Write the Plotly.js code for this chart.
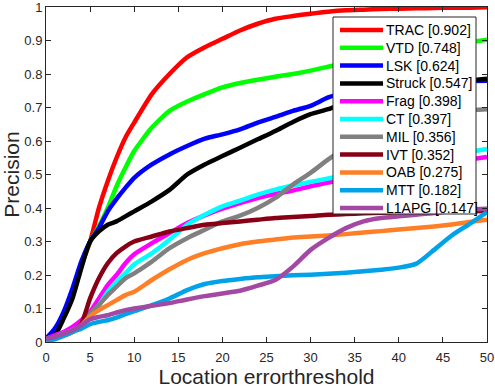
<!DOCTYPE html>
<html>
<head>
<meta charset="utf-8">
<script src="https://cdn.plot.ly/plotly-3.0.1.min.js"></script>
<style>
  body { margin: 0; background: #fff; }
  #myDiv { width: 495px; height: 389px; }
</style>
</head>
<body>
<div id="myDiv"></div>
<script>
// location error thresholds (pixels)
var thresholds = [0, 1, 2, 3, 4, 5, 6, 7, 8, 9, 10, 12, 14, 16, 18, 20, 22, 24, 26, 28, 30, 32, 34, 36, 38, 40, 42, 44, 46, 48, 50];

var trac   = [0.01, 0.03, 0.08, 0.15, 0.23, 0.30, 0.40, 0.48, 0.55, 0.61, 0.655, 0.74, 0.80, 0.85, 0.88, 0.905, 0.93, 0.95, 0.965, 0.973, 0.98, 0.986, 0.99, 0.992, 0.994, 0.995, 0.996, 0.997, 0.998, 0.998, 0.999];
var vtd    = [0.01, 0.03, 0.08, 0.15, 0.23, 0.30, 0.345, 0.40, 0.465, 0.52, 0.57, 0.64, 0.69, 0.718, 0.74, 0.76, 0.773, 0.783, 0.792, 0.80, 0.81, 0.822, 0.832, 0.842, 0.852, 0.862, 0.872, 0.88, 0.888, 0.895, 0.902];
var lsk    = [0.01, 0.04, 0.09, 0.16, 0.24, 0.30, 0.34, 0.39, 0.427, 0.46, 0.49, 0.53, 0.56, 0.585, 0.607, 0.62, 0.635, 0.655, 0.672, 0.69, 0.705, 0.73, 0.745, 0.755, 0.762, 0.768, 0.772, 0.775, 0.777, 0.779, 0.78];
var struck = [0.01, 0.02, 0.07, 0.13, 0.22, 0.30, 0.33, 0.35, 0.36, 0.375, 0.39, 0.42, 0.454, 0.50, 0.53, 0.555, 0.58, 0.605, 0.63, 0.657, 0.68, 0.695, 0.715, 0.73, 0.745, 0.755, 0.763, 0.77, 0.776, 0.781, 0.786];
var frag   = [0.01, 0.02, 0.03, 0.045, 0.065, 0.09, 0.13, 0.17, 0.20, 0.235, 0.262, 0.295, 0.325, 0.355, 0.378, 0.398, 0.415, 0.43, 0.442, 0.452, 0.465, 0.476, 0.487, 0.497, 0.506, 0.515, 0.523, 0.531, 0.538, 0.545, 0.552];
var ct     = [0.01, 0.015, 0.025, 0.035, 0.05, 0.08, 0.11, 0.15, 0.18, 0.205, 0.232, 0.265, 0.305, 0.35, 0.38, 0.405, 0.422, 0.44, 0.455, 0.467, 0.478, 0.488, 0.499, 0.51, 0.52, 0.53, 0.54, 0.55, 0.558, 0.567, 0.576];
var mil    = [0.01, 0.015, 0.02, 0.03, 0.05, 0.085, 0.11, 0.14, 0.165, 0.19, 0.205, 0.24, 0.28, 0.31, 0.335, 0.36, 0.377, 0.40, 0.43, 0.47, 0.505, 0.545, 0.58, 0.61, 0.635, 0.655, 0.67, 0.68, 0.688, 0.692, 0.695];
var ivt    = [0.01, 0.015, 0.02, 0.03, 0.055, 0.13, 0.19, 0.235, 0.265, 0.285, 0.30, 0.315, 0.33, 0.34, 0.35, 0.355, 0.36, 0.365, 0.37, 0.373, 0.376, 0.38, 0.382, 0.384, 0.386, 0.387, 0.388, 0.389, 0.39, 0.39, 0.391];
var oab    = [0.01, 0.012, 0.02, 0.03, 0.05, 0.077, 0.095, 0.11, 0.125, 0.14, 0.15, 0.185, 0.217, 0.245, 0.265, 0.28, 0.292, 0.30, 0.306, 0.312, 0.315, 0.318, 0.322, 0.327, 0.331, 0.336, 0.34, 0.345, 0.351, 0.358, 0.365];
var mtt    = [0.005, 0.008, 0.018, 0.03, 0.04, 0.053, 0.06, 0.065, 0.073, 0.083, 0.092, 0.11, 0.13, 0.155, 0.173, 0.182, 0.188, 0.193, 0.196, 0.199, 0.201, 0.204, 0.207, 0.211, 0.216, 0.222, 0.234, 0.275, 0.318, 0.352, 0.388];
var l1apg  = [0.01, 0.015, 0.025, 0.035, 0.05, 0.068, 0.075, 0.08, 0.088, 0.095, 0.10, 0.108, 0.116, 0.127, 0.137, 0.145, 0.153, 0.168, 0.185, 0.225, 0.275, 0.31, 0.34, 0.36, 0.37, 0.375, 0.38, 0.385, 0.392, 0.396, 0.398];

var names  = ['TRAC [0.902]', 'VTD [0.748]', 'LSK [0.624]', 'Struck [0.547]', 'Frag [0.398]', 'CT [0.397]',
              'MIL [0.356]', 'IVT [0.352]', 'OAB [0.275]', 'MTT [0.182]', 'L1APG [0.147]'];
var series = [trac, vtd, lsk, struck, frag, ct, mil, ivt, oab, mtt, l1apg];
var colors = ['#ff0000', '#00ff00', '#0000ff', '#000000', '#ff00ff', '#00ffff',
              '#808080', '#880015', '#ff7f27', '#00a2e8', '#a349a4'];

var xTicks = [0, 5, 10, 15, 20, 25, 30, 35, 40, 45, 50];
var yTicks = [0, 0.1, 0.2, 0.3, 0.4, 0.5, 0.6, 0.7, 0.8, 0.9, 1];
var yTickText = ['0', '0.1', '0.2', '0.3', '0.4', '0.5', '0.6', '0.7', '0.8', '0.9', '1'];

var data = series.map(function (ys, i) {
  return {
    x: thresholds,
    y: ys,
    name: names[i],
    type: 'scatter',
    mode: 'lines',
    line: { color: colors[i], width: 4.5, shape: 'spline', smoothing: 0.6 }
  };
});

var font = 'Arial, Liberation Sans, sans-serif';
var tickFont = { family: font, size: 13, color: '#262626' };

// plot area in px (left, top, width, height); legend placed in px then turned into paper units
var pl = 46, pt = 7, pw = 441, ph = 335;
var px = function (v) { return (v - pl) / pw; };
var py = function (v) { return (pt + ph - v) / ph; };

// legend box drawn by hand (MATLAB rows are tighter than plotly's legend)
var shapes = [{
  type: 'rect', xref: 'paper', yref: 'paper',
  x0: px(333), x1: px(476), y0: py(214), y1: py(17),
  fillcolor: '#fff', line: { color: '#262626', width: 1 }
}];
var annotations = [];
names.forEach(function (n, i) {
  var yy = py(30 + 17.8 * i);
  shapes.push({
    type: 'line', xref: 'paper', yref: 'paper',
    x0: px(340), x1: px(383), y0: yy, y1: yy,
    line: { color: colors[i], width: 4.5 }
  });
  annotations.push({
    xref: 'paper', yref: 'paper', x: px(384), y: yy,
    xanchor: 'left', yanchor: 'middle', showarrow: false,
    text: n, font: { family: font, size: 14, color: '#000' }
  });
});

var layout = {
  width: 495,
  height: 389,
  margin: { l: pl, r: 495 - pl - pw, t: pt, b: 389 - pt - ph },
  paper_bgcolor: '#fff',
  plot_bgcolor: '#fff',
  showlegend: false,
  xaxis: {
    range: [0, 50],
    tickmode: 'array',
    tickvals: xTicks,
    ticks: 'inside',
    ticklen: 5,
    tickcolor: '#262626',
    ticklabelstandoff: 3,
    ticklabeloverflow: 'allow',
    showgrid: false,
    zeroline: false,
    showline: true,
    linecolor: '#262626',
    linewidth: 1,
    mirror: 'ticks',
    tickfont: tickFont,
    title: { text: 'Location errorthreshold', font: { family: font, size: 21, color: '#262626' }, standoff: 3 }
  },
  yaxis: {
    range: [0, 1],
    tickmode: 'array',
    tickvals: yTicks,
    ticktext: yTickText,
    ticks: 'inside',
    ticklen: 5,
    tickcolor: '#262626',
    ticklabeloverflow: 'allow',
    showgrid: false,
    zeroline: false,
    showline: true,
    linecolor: '#262626',
    linewidth: 1,
    mirror: 'ticks',
    tickfont: tickFont,
    title: { text: 'Precision', font: { family: font, size: 21, color: '#262626' }, standoff: 4 }
  },
  shapes: shapes,
  annotations: annotations
};

Plotly.newPlot('myDiv', data, layout, { staticPlot: true });
</script>
</body>
</html>
